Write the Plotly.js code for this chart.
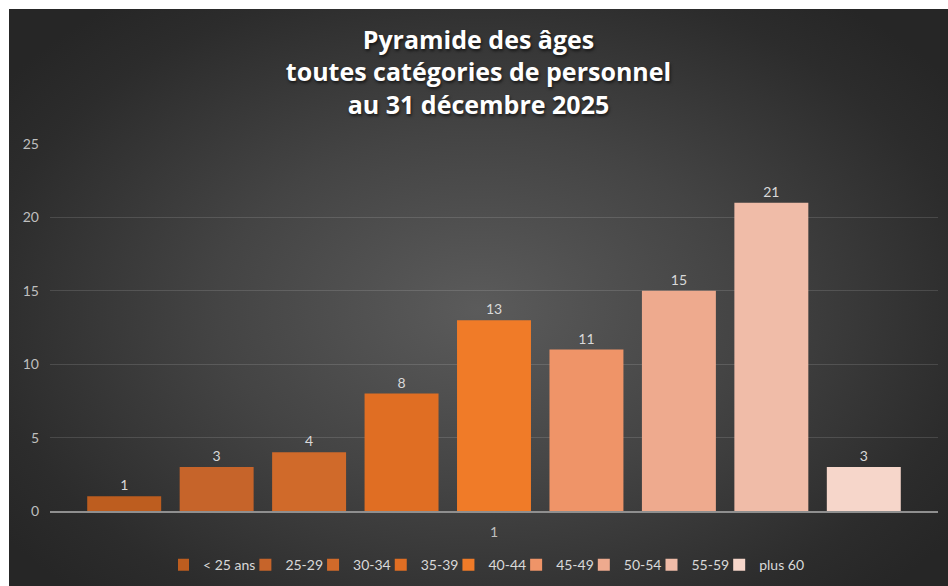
<!DOCTYPE html>
<html>
<head>
<meta charset="utf-8">
<script src="https://cdn.plot.ly/plotly-3.0.1.min.js"></script>
<style>
  html, body { margin: 0; padding: 0; background: #ffffff; width: 948px; height: 586px; overflow: hidden; }
  #chart {
    position: absolute; left: 9px; top: 9px; width: 939px; height: 577px;
    background: radial-gradient(ellipse 62% 68% at 50% 52%, #5b5b5b 0%, #444444 45%, #2c2c2c 85%, #262626 100%);
  }
</style>
</head>
<body>
<div id="chart"></div>
<script>
// ---- data ----
const categories = ['< 25 ans', '25-29', '30-34', '35-39', '40-44', '45-49', '50-54', '55-59', 'plus 60'];
const values = [1, 3, 4, 8, 13, 11, 15, 21, 3];
const xLabels = ['1'];
const yTicks = [0, 5, 10, 15, 20, 25];

// ---- style ----
const barColors = ['#bd5d1f', '#c6642a', '#d06a2a', '#e06e23', '#f07b28', '#ef9468', '#eeaa8e', '#f0bca8', '#f6d6ca'];
const labelColor = '#d9d9d9';
const tickColor = '#bfbfbf';
const baseFont = 'Lato, "Open Sans", sans-serif';

const traces = categories.map((name, i) => ({
  type: 'bar',
  name: name,
  x: xLabels,
  y: [values[i]],
  marker: { color: barColors[i], line: { width: 0 } },
  texttemplate: '%{y}',
  textposition: 'outside',
  cliponaxis: false,
  textfont: { color: labelColor, size: 14, family: baseFont },
  hoverinfo: 'name+y'
}));

const layout = {
  width: 939,
  height: 577,
  paper_bgcolor: 'rgba(0,0,0,0)',
  plot_bgcolor: 'rgba(0,0,0,0)',
  margin: { l: 41, r: 10, t: 135, b: 75 },
  font: { family: baseFont, color: tickColor, size: 13 },
  title: {
    text: 'Pyramide des âges<br>toutes catégories de personnel<br>au 31 décembre 2025',
    font: { family: '"Open Sans", Lato, sans-serif', size: 25, color: '#ffffff', weight: 'bold',
            shadow: '1px 2px 3px rgba(0,0,0,0.6)' },
    x: 0.5, xanchor: 'center',
    yref: 'container', y: 0.931, yanchor: 'top'
  },
  barmode: 'group',
  bargap: 0.063,
  bargroupgap: 0.2,
  xaxis: {
    type: 'category',
    showline: true, linecolor: '#8f8f8f', linewidth: 1.5,
    showgrid: false, zeroline: false,
    ticks: '', tickfont: { color: tickColor, size: 14 },
    ticklabelstandoff: 8
  },
  yaxis: {
    range: [0, 25],
    tickvals: yTicks,
    showgrid: true, gridcolor: 'rgba(255,255,255,0.13)', gridwidth: 1,
    zeroline: false, showline: false, ticks: '',
    tickfont: { color: tickColor, size: 14 },
    ticklabelstandoff: 10
  },
  showlegend: true,
  legend: {
    orientation: 'h',
    x: 0.5, xanchor: 'center',
    yref: 'container',
    y: 0.036, yanchor: 'middle',
    font: { color: labelColor, size: 14, family: baseFont },
    bgcolor: 'rgba(0,0,0,0)',
    itemwidth: 30,
    indentation: -15,
    traceorder: 'normal',
    itemclick: false
  }
};

Plotly.newPlot('chart', traces, layout, { displayModeBar: false, staticPlot: true });
</script>
</body>
</html>
